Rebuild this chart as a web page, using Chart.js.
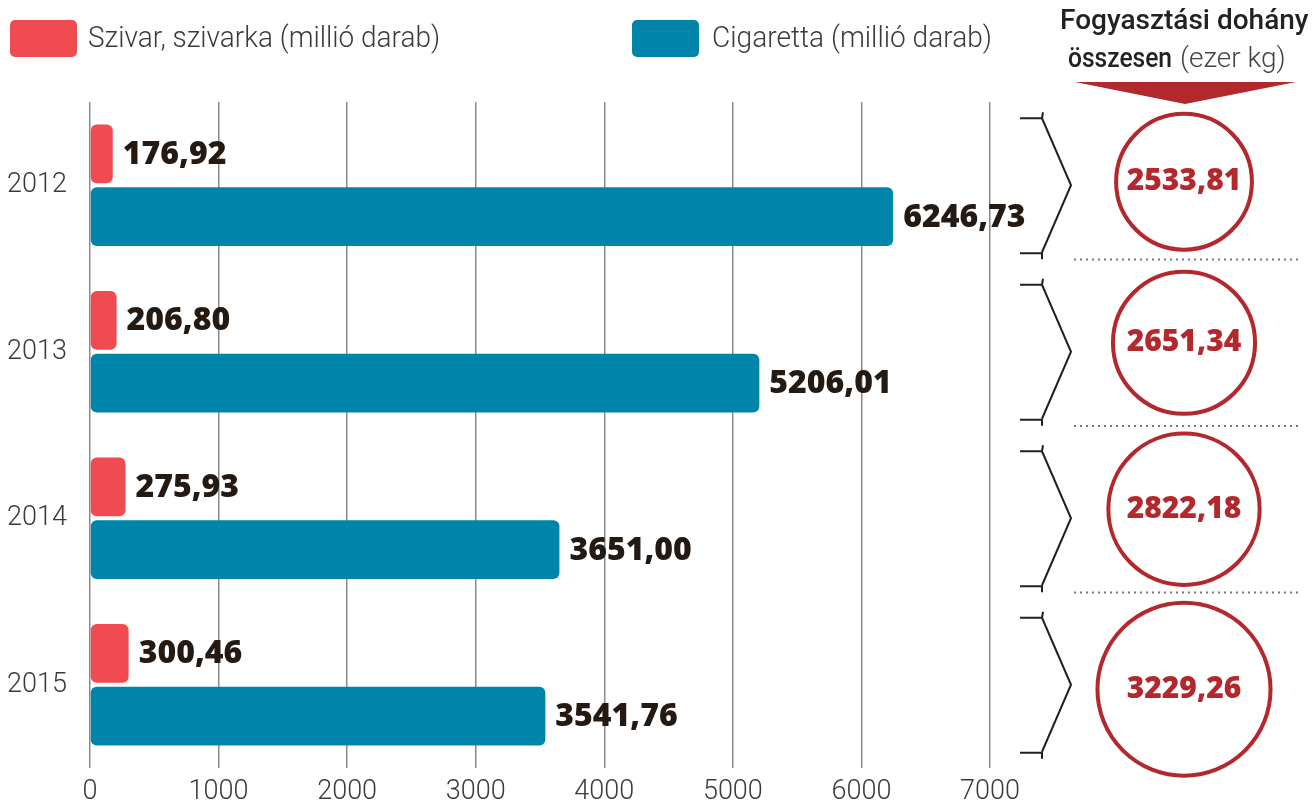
<!DOCTYPE html>
<html>
<head>
<meta charset="utf-8">
<script src="https://cdn.jsdelivr.net/npm/chart.js@4"></script>
<style>
  html, body { margin: 0; padding: 0; background: #fff; }
  #wrap { width: 1314px; height: 804px; position: relative; }
</style>
</head>
<body>
<div id="wrap"><canvas id="dohanyChart" width="1314" height="804"></canvas></div>
<script>
// adatok
const years = ['2012', '2013', '2014', '2015'];
const szivar = [176.92, 206.80, 275.93, 300.46];       // millió darab
const cigaretta = [6246.73, 5206.01, 3651.00, 3541.76]; // millió darab
const dohany = [2533.81, 2651.34, 2822.18, 3229.26];    // ezer kg
const xTicks = [0, 1000, 2000, 3000, 4000, 5000, 6000, 7000];

const RED = '#ef4b51';
const TEAL = '#0085aa';
const DARK_RED = '#b3282c';
const INK = '#241a12';
const LIGHT_FONT = 'Roboto, Lato, sans-serif';
const BOLD_FONT = '"Open Sans", Roboto, sans-serif';

function fmt(v) {
    return v.toFixed(2).replace('.', ',');
}

// szöveg vízszintesen összenyomva, ha szélesebb a kívántnál
function fitText(ctx, text, x, y, maxW) {
    const w = ctx.measureText(text).width;
    if (w <= maxW) { ctx.fillText(text, x, y); return w; }
    ctx.save();
    ctx.translate(x, y);
    ctx.scale(maxW / w, 1);
    ctx.fillText(text, 0, 0);
    ctx.restore();
    return maxW;
}

// értékcímkék a sávok végén
const valueLabels = {
    id: 'valueLabels',
    afterDatasetsDraw(chart) {
        const ctx = chart.ctx;
        ctx.save();
        ctx.font = '800 32px ' + BOLD_FONT;
        ctx.fillStyle = INK;
        ctx.textBaseline = 'middle';
        ctx.textAlign = 'left';
        chart.data.datasets.forEach((ds, i) => {
            chart.getDatasetMeta(i).data.forEach((bar, j) => {
                ctx.fillText(fmt(ds.data[j]), bar.x + 10, bar.y + 1);
            });
        });
        ctx.restore();
    }
};

// jelmagyarázat + jobb oldali összesítő panel
const sidePanel = {
    id: 'sidePanel',
    afterDraw(chart) {
        const ctx = chart.ctx;
        const yScale = chart.scales.y;
        ctx.save();

        // jelmagyarázat
        ctx.fillStyle = RED;
        ctx.beginPath(); ctx.roundRect(10, 20, 67, 37, 5); ctx.fill();
        ctx.fillStyle = TEAL;
        ctx.beginPath(); ctx.roundRect(632, 20, 67, 37, 5); ctx.fill();
        ctx.fillStyle = '#3a3a3a';
        ctx.font = '300 29px ' + LIGHT_FONT;
        ctx.textBaseline = 'middle';
        fitText(ctx, 'Szivar, szivarka (millió darab)', 88, 40, 352);
        fitText(ctx, 'Cigaretta (millió darab)', 712, 40, 280);

        // fejléc
        ctx.fillStyle = '#222';
        ctx.font = '500 28px ' + LIGHT_FONT;
        fitText(ctx, 'Fogyasztási dohány', 1060, 22, 250);
        const w1 = fitText(ctx, 'összesen', 1068, 60, 104);
        ctx.font = '300 28px ' + LIGHT_FONT;
        ctx.fillStyle = '#444';
        fitText(ctx, '(ezer kg)', 1068 + w1 + 8, 60, 122);

        // háromszög
        ctx.fillStyle = DARK_RED;
        ctx.beginPath();
        ctx.moveTo(1075, 82); ctx.lineTo(1296, 82); ctx.lineTo(1185, 104);
        ctx.closePath(); ctx.fill();

        // elválasztók: a kategóriahatárok felett
        const seps = [];
        for (let i = 0; i < years.length - 1; i++) {
            seps.push(yScale.getPixelForValue(i + 0.5) - 9);
        }

        years.forEach((yr, i) => {
            const cy = yScale.getPixelForValue(i);
            // zárójel
            ctx.strokeStyle = '#231f1c';
            ctx.lineWidth = 2;
            ctx.beginPath();
            ctx.moveTo(1020, cy - 67);
            ctx.lineTo(1042, cy - 67);
            ctx.lineTo(1043, cy - 73);
            ctx.moveTo(1042, cy - 67);
            ctx.lineTo(1071, cy);
            ctx.lineTo(1042, cy + 67);
            ctx.moveTo(1020, cy + 68);
            ctx.lineTo(1042, cy + 68);
            ctx.lineTo(1042, cy + 74);
            ctx.stroke();

            // kör: sugara arányos az értékkel, középen a sávjában
            const top = i === 0 ? 104 : seps[i - 1];
            const bottom = i === years.length - 1 ? 786 : seps[i];
            const ccy = (top + bottom) / 2;
            const r = dohany[i] * 0.0268;
            ctx.strokeStyle = DARK_RED;
            ctx.lineWidth = 4;
            ctx.beginPath();
            ctx.arc(1184, ccy, r, 0, Math.PI * 2);
            ctx.stroke();
            ctx.fillStyle = DARK_RED;
            ctx.font = '800 30px ' + BOLD_FONT;
            ctx.textAlign = 'center';
            ctx.fillText(fmt(dohany[i]), 1184, ccy);
            ctx.textAlign = 'left';
        });

        // pontozott elválasztók
        ctx.fillStyle = '#777';
        seps.forEach(sep => {
            for (let x = 1074; x <= 1296; x += 6) {
                ctx.fillRect(x, sep - 1, 2, 2);
            }
        });
        ctx.restore();
    }
};

const ctx = document.getElementById('dohanyChart').getContext('2d');
const dohanyChart = new Chart(ctx, {
    type: 'bar',
    data: {
        labels: years,
        datasets: [{
            label: 'Szivar, szivarka (millió darab)',
            data: szivar,
            backgroundColor: RED,
            borderRadius: 6,
            borderSkipped: false
        }, {
            label: 'Cigaretta (millió darab)',
            data: cigaretta,
            backgroundColor: TEAL,
            borderRadius: 6,
            borderSkipped: false
        }]
    },
    options: {
        indexAxis: 'y',
        responsive: false,
        animation: false,
        layout: { padding: { top: 102, right: 324, left: 0, bottom: 0 } },
        datasets: { bar: { categoryPercentage: 0.755, barPercentage: 0.935 } },
        plugins: {
            legend: { display: false },
            tooltip: { enabled: false }
        },
        scales: {
            x: {
                min: 0,
                max: 7000,
                afterBuildTicks: (scale) => { scale.ticks = xTicks.map(v => ({ value: v })); },
                afterFit: (scale) => { scale.height = 36; },
                border: { display: false },
                grid: { color: '#8a8a8a', lineWidth: 1.5, drawTicks: false },
                ticks: {
                    padding: 8,
                    color: '#3a3a3a',
                    font: { family: LIGHT_FONT, size: 27, weight: '300' },
                    callback: (v) => String(v)
                }
            },
            y: {
                afterFit: (scale) => { scale.width = 90; },
                border: { display: false },
                grid: { display: false },
                ticks: {
                    padding: 15,
                    color: '#3a3a3a',
                    font: { family: LIGHT_FONT, size: 27, weight: '300' }
                }
            }
        }
    },
    plugins: [valueLabels, sidePanel]
});
</script>
</body>
</html>
